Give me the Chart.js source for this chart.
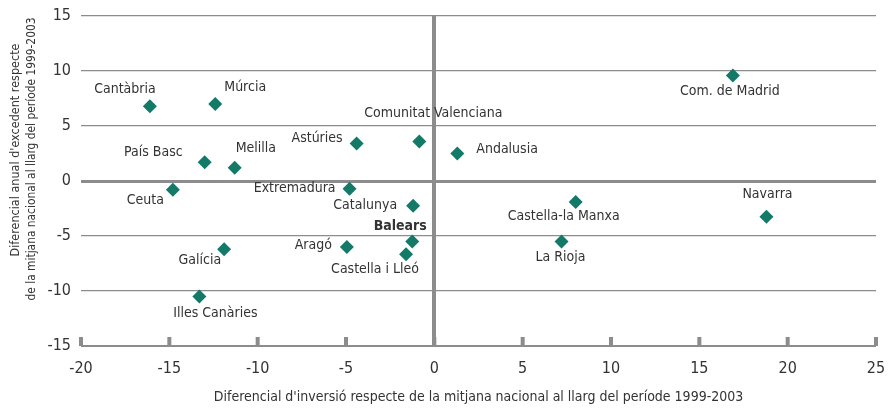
<!DOCTYPE html>
<html>
<head>
<meta charset="utf-8">
<script src="https://cdn.jsdelivr.net/npm/chart.js@4/dist/chart.umd.min.js"></script>
<style>
	html, body {margin: 0; padding: 0; background: #fff; overflow: hidden;}
	#wrap {width: 890px; height: 408px;}
</style>
</head>
<body>
<div id="wrap"><canvas id="chart"></canvas></div>
<script>
// comunitats autònomes, diferencial d'inversió (x) i d'excedent (y), 1999-2003
var regions = ['Cantàbria', 'Múrcia', 'País Basc', 'Melilla', 'Astúries', 'Comunitat Valenciana', 'Andalusia',
	'Com. de Madrid', 'Ceuta', 'Extremadura', 'Catalunya', 'Balears', 'Aragó', 'Castella i Lleó', 'Galícia',
	'Illes Canàries', 'Castella-la Manxa', 'Navarra', 'La Rioja'];

var investDiff = [-16.1, -12.4, -13.0, -11.3, -4.4, -0.85, 1.3, 16.9, -14.8, -4.8, -1.2, -1.25, -4.95, -1.6, -11.9, -13.3, 8.0, 18.8, 7.2];
var surplusDiff = [6.8, 7.0, 1.7, 1.2, 3.4, 3.6, 2.5, 9.6, -0.8, -0.7, -2.25, -5.5, -6.0, -6.65, -6.2, -10.5, -1.9, -3.25, -5.5];

var xTicks = [-20, -15, -10, -5, 0, 5, 10, 15, 20, 25];
var yTicks = [-15, -10, -5, 0, 5, 10, 15];

var xTitle = 'Diferencial d\'inversió respecte de la mitjana nacional al llarg del període 1999-2003';
var yTitle = ['Diferencial anual d\'excedent respecte', 'de la mitjana nacional al llarg del període 1999-2003'];

// where each label sits next to its point: [align, dx, dy]
var labelPlace = [
	['center', -25, -17], ['left', 9, -17], ['right', -22, -10], ['left', 1, -19], ['right', -14, -5],
	['center', 14, -28], ['left', 19, -4], ['center', -3, 16], ['right', -9, 11], ['right', -14, 0],
	['right', -16, 0], ['center', -12, -15], ['right', -15, -2], ['center', -31, 15], ['right', -3, 11],
	['center', 16, 17], ['center', -12, 14], ['center', 1, -22], ['center', -1, 16]
];

var fontFamily = '"DejaVu Sans Condensed", "Liberation Sans", sans-serif';
var gray = '#8c8c8c';
var textColor = '#333333';
var green = '#127a67';

var points = [];
for (var i = 0; i < regions.length; i++)
{
	points.push({x: investDiff[i], y: surplusDiff[i]});
}

var extras =
{
	id: 'extras',
	afterDraw: function (chart)
	{
		var ctx = chart.ctx;
		var area = chart.chartArea;
		var xs = chart.scales.x;

		ctx.save();

		// little inward tick marks on the bottom axis
		ctx.fillStyle = gray;
		xTicks.forEach(function (t)
		{
			var px = xs.getPixelForValue(t);
			ctx.fillRect(px - 2, area.bottom - 9, 4, 9);
		});

		// point labels
		var meta = chart.getDatasetMeta(0);
		ctx.fillStyle = textColor;
		ctx.textBaseline = 'middle';
		meta.data.forEach(function (pt, i)
		{
			var place = labelPlace[i];
			ctx.font = (regions[i] == 'Balears' ? 'bold ' : '') + '14px ' + fontFamily;
			ctx.textAlign = place[0];
			ctx.fillText(regions[i], pt.x + place[1], pt.y + place[2]);
		});

		// axis titles
		ctx.font = '14px ' + fontFamily;
		ctx.textAlign = 'center';
		ctx.fillText(xTitle, (area.left + area.right) / 2, 397);

		ctx.font = '12.5px ' + fontFamily;
		ctx.rotate(-Math.PI / 2);
		ctx.fillText(yTitle[0], -150, 16, 216);
		ctx.fillText(yTitle[1], -159, 32, 283);

		ctx.restore();
	}
};

new Chart(document.getElementById('chart'),
{
	type: 'scatter',
	data:
	{
		datasets: [
		{
			data: points,
			pointStyle: 'rectRot',
			pointRadius: 7,
			pointHoverRadius: 7,
			backgroundColor: green,
			borderColor: green,
			borderWidth: 0
		}]
	},
	options:
	{
		responsive: true,
		maintainAspectRatio: false,
		animation: false,
		layout: {padding: {top: 16, right: 14, left: 0, bottom: 0}},
		plugins:
		{
			legend: {display: false},
			tooltip: {enabled: false}
		},
		scales:
		{
			x:
			{
				type: 'linear',
				min: -20,
				max: 25,
				afterBuildTicks: function (scale) {scale.ticks = xTicks.map(function (v) {return {value: v}})},
				afterFit: function (scale)
				{
					scale.height = 62;
					scale.paddingLeft = 0;
					scale.paddingRight = 0;
				},
				border: {display: false},
				grid:
				{
					drawTicks: false,
					color: function (c) {return c.tick && c.tick.value == 0 ? gray : 'rgba(0,0,0,0)'},
					lineWidth: function (c) {return c.tick && c.tick.value == 0 ? 4 : 0}
				},
				ticks:
				{
					padding: 13,
					maxRotation: 0,
					color: textColor,
					font: {family: fontFamily, size: 16}
				}
			},
			y:
			{
				type: 'linear',
				min: -15,
				max: 15,
				afterBuildTicks: function (scale) {scale.ticks = yTicks.map(function (v) {return {value: v}})},
				afterFit: function (scale)
				{
					scale.width = 81;
					scale.paddingTop = 0;
					scale.paddingBottom = 0;
				},
				border: {display: false},
				grid:
				{
					drawTicks: false,
					color: gray,
					lineWidth: function (c)
					{
						if (c.tick && c.tick.value == 0) {return 3}
						if (c.tick && c.tick.value == -15) {return 2}
						return 1.2;
					}
				},
				ticks:
				{
					padding: 10,
					color: textColor,
					font: {family: fontFamily, size: 16}
				}
			}
		}
	},
	plugins: [extras]
});
</script>
</body>
</html>
